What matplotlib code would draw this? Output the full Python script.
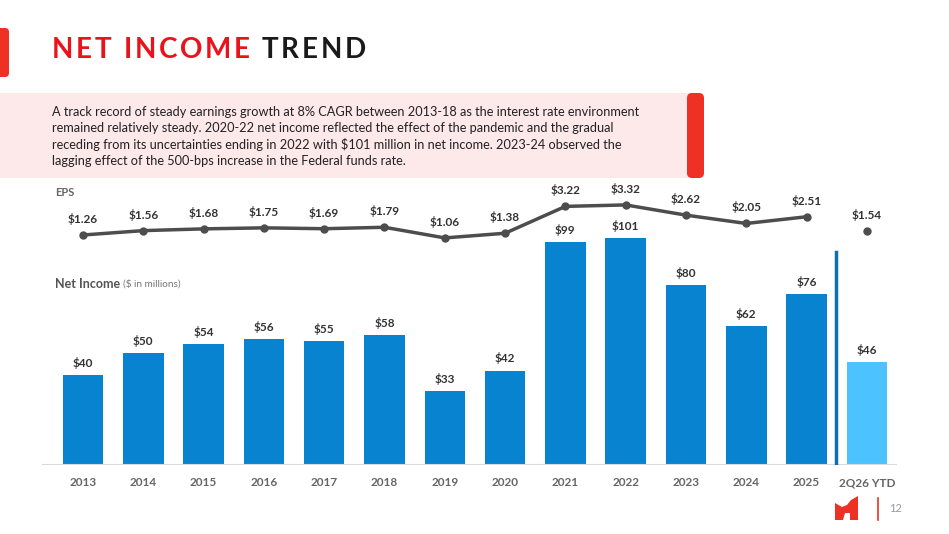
import matplotlib.pyplot as plt
from matplotlib.patches import FancyBboxPatch, Rectangle, Polygon

# data
years = ['2013', '2014', '2015', '2016', '2017', '2018', '2019', '2020',
         '2021', '2022', '2023', '2024', '2025', '2Q26 YTD']
net_income = [40, 50, 54, 56, 55, 58, 33, 42, 99, 101, 80, 62, 76, 46]
eps = [1.26, 1.56, 1.68, 1.75, 1.69, 1.79, 1.06, 1.38, 3.22, 3.32, 2.62, 2.05, 2.51, 1.54]

W, H = 949, 534
BLUE = '#0783d0'
LIGHT_BLUE = '#4cc3ff'
RED = '#e8131b'
GRAY_TXT = '#666666'
LABEL_TXT = '#333333'

plt.rcParams['font.family'] = ['Lato', 'DejaVu Sans']

fig = plt.figure(figsize=(W / 100, H / 100), dpi=100)
fig.patch.set_facecolor('white')

# decoration layer in pixel coordinates
deco = fig.add_axes([0, 0, 1, 1])
deco.set_xlim(0, W)
deco.set_ylim(H, 0)
deco.axis('off')

deco.add_patch(FancyBboxPatch((-10, 28), 19, 49, boxstyle='round,pad=0,rounding_size=4',
                              fc='#ee3124', ec='none'))
deco.add_patch(Rectangle((0, 93), 700, 85, fc='#fde8ea', ec='none'))
deco.add_patch(FancyBboxPatch((687, 93), 17, 85, boxstyle='round,pad=0,rounding_size=5',
                              fc='#ee3124', ec='none'))

renderer = fig.canvas.get_renderer()

# title with wide letter spacing
title_parts = [('NET INCOME', RED), (' ', RED), ('TREND', '#1a1a1a')]
chars = []
for s, c in title_parts:
    for ch in s:
        chars.append((ch, c))
widths = []
for ch, c in chars:
    if ch == ' ':
        widths.append(6)
        continue
    t = deco.text(0, 0, ch, fontsize=20, fontweight='bold')
    widths.append(t.get_window_extent(renderer).width)
    t.remove()
target = 366 - 52
track = (target - sum(widths)) / (len(chars) - 1)
x = 52
for (ch, c), w in zip(chars, widths):
    if ch != ' ':
        deco.text(x, 58, ch, fontsize=20, fontweight='bold', color=c, va='baseline', ha='left')
    x += w + track

para = ["A track record of steady earnings growth at 8% CAGR between 2013-18 as the interest rate environment",
        "remained relatively steady. 2020-22 net income reflected the effect of the pandemic and the gradual",
        "receding from its uncertainties ending in 2022 with $101 million in net income. 2023-24 observed the",
        "lagging effect of the 500-bps increase in the Federal funds rate."]
for i, line in enumerate(para):
    deco.text(52, 112 + i * 16.3, line, fontsize=9.2, color='#222222', va='center', ha='left')

deco.text(55, 192, 'EPS', fontsize=8, fontweight='bold', color=GRAY_TXT, va='center')
ni = deco.text(55, 284, 'Net Income', fontsize=9, fontweight='bold', color='#555555', va='center')
ni_w = ni.get_window_extent(renderer).width
deco.text(55 + ni_w + 3, 284, '($ in millions)', fontsize=7.2, color='#777777', va='center')

# logo and page number
deco.add_patch(Polygon([(835, 503), (842, 507), (847, 505), (851, 500), (858, 496),
                        (858, 520), (850, 520), (850, 513), (845, 513), (843, 520),
                        (835, 520)], closed=True, fc='#ee3124', ec='none'))
deco.plot([878, 878], [498, 520], color='#ee3124', lw=1.2)
deco.text(896, 509, '12', fontsize=8, color='#999999', va='center', ha='center')

# bar chart
pos = [42 / W, 1 - 465 / H, 855 / W, 275 / H]
ax = fig.add_axes(pos)
ax.patch.set_alpha(0)
xs = list(range(len(years)))
colors = [BLUE] * (len(years) - 1) + [LIGHT_BLUE]
ax.bar(xs, net_income, width=0.67, color=colors)
ax.set_xlim((42 - 83) / 60.3, (897 - 83) / 60.3)
ax.set_ylim(0, 275 / 2.25)
for x_, v in zip(xs, net_income):
    ax.annotate(f'${v}', (x_, v), xytext=(0, 12), textcoords='offset pixels',
                ha='center', va='center', fontsize=8.5, fontweight='bold', color=LABEL_TXT)
ax.axhline(0, color='#d9d9d9', lw=1.5)
ax.plot([12.49, 12.49], [0, 94.5], color='#0a6fb5', lw=2.5)
ax.set_xticks(xs, years)
ax.tick_params(axis='x', length=0, pad=9, labelsize=8.5, labelcolor=GRAY_TXT)
for lbl in ax.get_xticklabels():
    lbl.set_fontweight('bold')
ax.set_yticks([])
for sp in ax.spines.values():
    sp.set_visible(False)

# EPS line
ax2 = fig.add_axes(pos)
ax2.patch.set_alpha(0)
ax2.set_xlim(ax.get_xlim())
ylo = 1.26 - 230 / 14.6
ax2.set_ylim(ylo, ylo + 275 / 14.6)
ax2.plot(xs[:-1], eps[:-1], color='#4d4d4d', lw=2.5, marker='o', ms=5)
ax2.plot(xs[-1:], eps[-1:], color='#4d4d4d', lw=0, marker='o', ms=5)
for x_, v in zip(xs, eps):
    ax2.annotate(f'${v:.2f}', (x_, v), xytext=(0, 16), textcoords='offset pixels',
                 ha='center', va='center', fontsize=8.5, fontweight='bold', color=LABEL_TXT)
ax2.axis('off')

fig.savefig('out.png', dpi=100)
